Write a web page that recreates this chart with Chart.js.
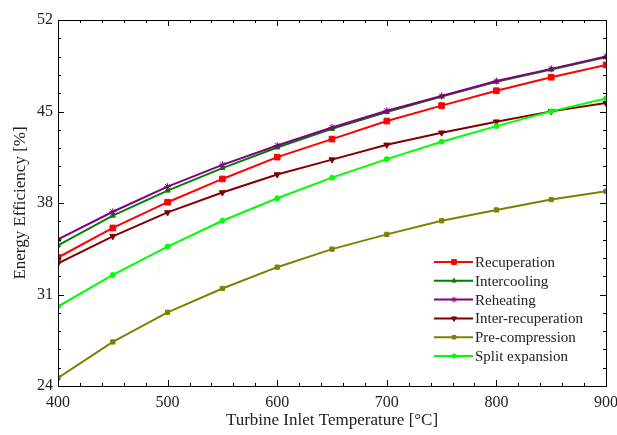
<!doctype html>
<html>
  <head>
    <title>Energy Efficiency vs Turbine Inlet Temperature</title>
    <style>
      body { margin: 0; background: #fff; }
    </style>
  </head>
  <script src="https://cdn.jsdelivr.net/npm/chart.js@4"></script>
  <body>
    <canvas id="chart" width="617" height="435"></canvas>
  </body>
  <script>
    // turbine inlet temperature [°C]
    const temperatures = [400, 450, 500, 550, 600, 650, 700, 750, 800, 850, 900];

    // energy efficiency [%]
    const recuperation = [33.83, 36.09, 38.06, 39.84, 41.51, 42.89, 44.27, 45.45, 46.59, 47.62, 48.56];
    const intercooling = [34.76, 37.03, 38.95, 40.67, 42.25, 43.68, 44.96, 46.14, 47.28, 48.21, 49.15];
    const reheating = [35.21, 37.33, 39.25, 40.92, 42.4, 43.78, 45.06, 46.19, 47.33, 48.26, 49.2];
    const interRecuperation = [33.38, 35.45, 37.28, 38.8, 40.18, 41.32, 42.45, 43.38, 44.22, 45.01, 45.65];
    const preCompression = [24.62, 27.37, 29.64, 31.46, 33.09, 34.47, 35.6, 36.64, 37.47, 38.26, 38.9];
    const splitExpansion = [30.08, 32.5, 34.67, 36.64, 38.36, 39.94, 41.36, 42.69, 43.88, 45.01, 45.99];

    const xTicks = [400, 500, 600, 700, 800, 900];
    const yTicks = [24, 31, 38, 45, 52];

    const makeSeries = (label, data, color, pointStyle, radius, rotation) => ({
      label: label,
      data: data,
      borderColor: color,
      backgroundColor: color,
      borderWidth: 2,
      pointStyle: pointStyle,
      pointRadius: radius,
      pointRotation: rotation || 0,
      pointBorderWidth: 1,
      tension: 0,
    });

    const datasets = [
      makeSeries('Recuperation', recuperation, '#ff0000', 'rect', 4),
      makeSeries('Intercooling', intercooling, '#008000', 'triangle', 3),
      makeSeries('Reheating', reheating, '#800080', 'star', 3.5),
      makeSeries('Inter-recuperation', interRecuperation, '#800000', 'triangle', 3.5, 180),
      makeSeries('Pre-compression', preCompression, '#808000', 'rect', 3),
      makeSeries('Split expansion', splitExpansion, '#00ff00', 'circle', 2.5),
    ];
    // first series drawn last so purple sits above green like the original
    datasets.forEach((d, i) => { d.order = datasets.length - i; });

    // inward ticks on all four sides plus the frame
    const frameTicks = {
      id: 'frameTicks',
      afterDraw(chart) {
        const ctx = chart.ctx;
        const a = chart.chartArea;
        const x = chart.scales.x;
        const y = chart.scales.y;
        ctx.save();
        ctx.strokeStyle = '#000';
        ctx.lineWidth = 1;
        ctx.strokeRect(Math.round(a.left) + 0.5, Math.round(a.top) + 0.5,
          Math.round(a.right - a.left), Math.round(a.bottom - a.top));
        ctx.beginPath();
        for (let i = 0; i <= 25; i += 1) {
          const px = Math.round(x.getPixelForValue(400 + i * 20)) + 0.5;
          const len = i % 5 === 0 ? 6 : 3;
          ctx.moveTo(px, a.bottom); ctx.lineTo(px, a.bottom - len);
          ctx.moveTo(px, a.top); ctx.lineTo(px, a.top + len);
        }
        for (let i = 0; i <= 20; i += 1) {
          const py = Math.round(y.getPixelForValue(24 + i * 1.4)) + 0.5;
          const len = i % 5 === 0 ? 6 : 3;
          ctx.moveTo(a.left, py); ctx.lineTo(a.left + len, py);
          ctx.moveTo(a.right, py); ctx.lineTo(a.right - len, py);
        }
        ctx.stroke();
        ctx.restore();
      }
    };

    // legend box inside the lower right of the plot
    const innerLegend = {
      id: 'innerLegend',
      afterDraw(chart) {
        const ctx = chart.ctx;
        const a = chart.chartArea;
        const x0 = a.right - 172;
        const y0 = a.bottom - 124;
        ctx.save();
        ctx.font = '15px "Liberation Serif"';
        ctx.textBaseline = 'middle';
        chart.data.datasets.forEach((d, i) => {
          const yy = y0 + i * 18.8;
          ctx.strokeStyle = d.borderColor;
          ctx.lineWidth = 2;
          ctx.beginPath();
          ctx.moveTo(x0, yy);
          ctx.lineTo(x0 + 39, yy);
          ctx.stroke();
          ctx.fillStyle = d.backgroundColor;
          ctx.lineWidth = 1;
          Chart.helpers.drawPoint(ctx, {
            pointStyle: d.pointStyle,
            radius: d.pointRadius * 0.85,
            rotation: d.pointRotation,
            borderWidth: 1,
          }, x0 + 20, yy);
          ctx.fillStyle = '#222';
          ctx.fillText(d.label, x0 + 41, yy + 1);
        });
        ctx.restore();
      }
    };

    const serif = '"Liberation Serif", "Times New Roman", serif';

    new Chart(document.getElementById('chart').getContext('2d'), {
      type: 'line',
      data: {
        labels: temperatures,
        datasets: datasets,
      },
      options: {
        responsive: false,
        animation: false,
        layout: { padding: { top: 20, right: 11, left: 0, bottom: 0 } },
        plugins: {
          legend: { display: false },
          tooltip: { enabled: false },
        },
        scales: {
          x: {
            type: 'linear',
            min: 400,
            max: 900,
            afterFit: (scale) => {
              scale.height = 49;
              scale.paddingLeft = 0;
              scale.paddingRight = 0;
            },
            afterBuildTicks: (scale) => {
              scale.ticks = xTicks.map(v => ({ value: v }));
            },
            grid: { display: false, drawTicks: false },
            border: { display: false },
            ticks: { color: '#222', padding: 7, font: { family: serif, size: 16 } },
            title: {
              display: true,
              text: 'Turbine Inlet Temperature [°C]',
              color: '#222',
              font: { family: serif, size: 17 },
              padding: { top: 0, bottom: 4 },
            },
          },
          y: {
            min: 24,
            max: 52,
            afterFit: (scale) => {
              scale.width = 58;
              scale.paddingTop = 0;
              scale.paddingBottom = 0;
            },
            afterBuildTicks: (scale) => {
              scale.ticks = yTicks.map(v => ({ value: v }));
            },
            grid: { display: false, drawTicks: false },
            border: { display: false },
            ticks: { color: '#222', padding: 5, font: { family: serif, size: 16 } },
            title: {
              display: true,
              text: 'Energy Efficiency [%]',
              color: '#222',
              font: { family: serif, size: 17 },
              padding: { top: 10, bottom: 0 },
            },
          },
        },
      },
      plugins: [frameTicks, innerLegend],
    });
  </script>
</html>
